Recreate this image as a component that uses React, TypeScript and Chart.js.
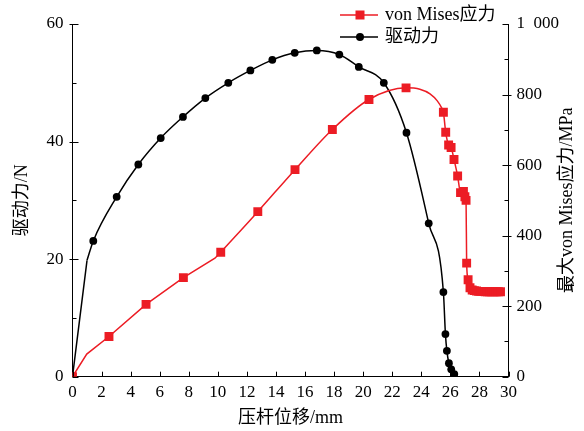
import { useEffect, useRef } from "react";
import { Chart, registerables } from "chart.js";

Chart.register(...registerables);

// Driving force (N) against rod displacement (mm): measured points
const forceX = [1.43, 3.04, 4.53, 6.07, 7.6, 9.14, 10.72, 12.24, 13.75, 15.29, 16.81, 18.36, 19.7, 21.42, 22.98, 24.51, 25.52, 25.66, 25.76, 25.9, 26.06, 26.27];
const forceY = [23.1, 30.6, 36.1, 40.6, 44.2, 47.4, 50.0, 52.1, 53.9, 55.1, 55.5, 54.8, 52.7, 50.0, 41.5, 26.1, 14.4, 7.25, 4.4, 2.3, 1.25, 0.45];
// extra knots on the force curve that carry no marker
const forceBendX = [0, 1.0];
const forceBendY = [0, 19.8];

// Maximum von Mises stress (MPa): measured points
const stressX = [0, 2.51, 5.06, 7.63, 10.2, 12.75, 15.31, 17.88, 20.4, 22.95, 25.52, 25.68, 25.88, 26.05, 26.25, 26.5, 26.7, 26.9, 27.0, 27.08, 27.12, 27.22, 27.35, 27.5, 27.65, 27.8, 27.95, 28.1, 28.25, 28.4, 28.55, 28.7, 28.85, 29.0, 29.15, 29.3, 29.45];
const stressY = [0, 114, 205, 281, 353, 468, 587, 701, 786, 819, 750, 693, 657, 650, 616, 569, 522, 525, 510, 500, 322, 275, 252, 246, 244, 243, 242, 242, 242, 241, 241, 241, 241, 241, 241, 241, 241];
// extra knots on the stress curve that carry no marker
const stressBendX = [0.98, 9.8, 23.9, 24.6, 25.1, 25.4];
const stressBendY = [64, 336, 815, 802, 782, 762];

// the curves are drawn as straight segments up to these displacements, smoothed after
const forceStraightTo = 1.0;
const stressStraightTo = 10.2;

const stressTickLabels = ["0", "200", "400", "600", "800", "1\u2007000"];
const legendLabels = ["von Mises应力", "驱动力"];
const xTitle = "压杆位移/mm";
const yTitle = "驱动力/N";
const y1Title = "最大von Mises应力/MPa";

const RED = "#ec1c24";
const BLACK = "#000000";
const SERIF = '"Liberation Serif", "Noto Sans CJK SC", serif';

type P = { x: number; y: number };
const points = (xs: number[], ys: number[]): P[] => xs.map((x, i) => ({ x, y: ys[i] }));
const curve = (xs: number[], ys: number[], bx: number[], by: number[]): P[] =>
  [...points(xs, ys), ...points(bx, by)].sort((a, b) => a.x - b.x);

// inward tick marks, axis titles and the legend
const decor = {
  id: "decor",
  afterDraw(chart: any) {
    const ctx: CanvasRenderingContext2D = chart.ctx;
    const { left, right, top, bottom } = chart.chartArea;
    const sx = chart.scales.x;
    const sy = chart.scales.y;
    const sy1 = chart.scales.y1;
    ctx.save();
    ctx.strokeStyle = BLACK;
    ctx.lineWidth = 1;
    ctx.beginPath();
    for (let v = sx.min; v <= sx.max; v += 2) {
      const px = Math.round(sx.getPixelForValue(v)) + 0.5;
      ctx.moveTo(px, bottom);
      ctx.lineTo(px, bottom - 5);
    }
    for (let v = sy.min; v <= sy.max; v += 10) {
      const py = Math.round(sy.getPixelForValue(v)) + 0.5;
      const major = v % 20 === 0;
      ctx.moveTo(left - (major && v > sy.min ? 3 : 0), py);
      ctx.lineTo(left + (major ? 6 : 4), py);
    }
    for (let v = sy1.min; v <= sy1.max; v += 100) {
      const py = Math.round(sy1.getPixelForValue(v)) + 0.5;
      const major = v % 200 === 0;
      ctx.moveTo(right + (major && v > sy1.min && v < sy1.max ? 3 : 0), py);
      ctx.lineTo(right - (major ? 6 : 4), py);
    }
    ctx.stroke();

    ctx.fillStyle = BLACK;
    ctx.font = `18px ${SERIF}`;
    ctx.textAlign = "center";
    ctx.textBaseline = "middle";
    ctx.fillText(xTitle, (left + right) / 2, 418);

    const midY = (top + bottom) / 2;
    ctx.save();
    ctx.translate(22, midY);
    ctx.rotate(-Math.PI / 2);
    ctx.fillText(yTitle, 0, 0);
    ctx.restore();

    ctx.save();
    ctx.translate(567, midY);
    ctx.rotate(-Math.PI / 2);
    ctx.fillText(y1Title, 0, 0);
    ctx.restore();

    // legend
    const rows = [
      { label: legendLabels[0], color: RED, y: 15, square: true },
      { label: legendLabels[1], color: BLACK, y: 37, square: false },
    ];
    ctx.textAlign = "left";
    for (const r of rows) {
      ctx.strokeStyle = r.color;
      ctx.fillStyle = r.color;
      ctx.lineWidth = 1.5;
      ctx.beginPath();
      ctx.moveTo(340, r.y);
      ctx.lineTo(378, r.y);
      ctx.stroke();
      if (r.square) {
        ctx.fillRect(360 - 4.5, r.y - 4.5, 9, 9);
      } else {
        ctx.beginPath();
        ctx.arc(360, r.y, 4, 0, Math.PI * 2);
        ctx.fill();
      }
      ctx.fillStyle = BLACK;
      ctx.fillText(r.label, 385, r.y);
    }
    ctx.restore();
  },
};

export default function App() {
  const ref = useRef<HTMLCanvasElement>(null);

  useEffect(() => {
    if (!ref.current) return;
    const tickFont = { family: SERIF, size: 17 };
    const stressCurve = curve(stressX, stressY, stressBendX, stressBendY);
    const forceCurve = curve(forceX, forceY, forceBendX, forceBendY);
    const lineStyle = (color: string, axis: string, order: number) => ({
      yAxisID: axis,
      borderColor: color,
      borderWidth: 1.5,
      pointRadius: 0,
      order,
    });
    const chart = new Chart(ref.current, {
      type: "line",
      data: {
        datasets: [
          {
            data: points(stressX, stressY),
            yAxisID: "y1",
            showLine: false,
            pointStyle: "rect",
            pointRadius: 6.3,
            pointBackgroundColor: RED,
            pointBorderWidth: 0,
            order: 0,
          },
          {
            ...lineStyle(RED, "y1", 1),
            data: stressCurve.filter((p) => p.x <= stressStraightTo),
            tension: 0,
          },
          {
            ...lineStyle(RED, "y1", 1),
            data: stressCurve.filter((p) => p.x >= stressStraightTo),
            cubicInterpolationMode: "monotone",
          },
          {
            data: points(forceX, forceY),
            yAxisID: "y",
            showLine: false,
            pointStyle: "circle",
            pointRadius: 3.9,
            pointBackgroundColor: BLACK,
            pointBorderWidth: 0,
            order: 2,
          },
          {
            ...lineStyle(BLACK, "y", 3),
            data: forceCurve.filter((p) => p.x <= forceStraightTo),
            tension: 0,
          },
          {
            ...lineStyle(BLACK, "y", 3),
            data: forceCurve.filter((p) => p.x >= forceStraightTo),
            cubicInterpolationMode: "monotone",
          },
        ],
      },
      options: {
        animation: false,
        responsive: false,
        events: [],
        layout: { padding: { top: 24, left: 0, right: 0, bottom: 0 } },
        plugins: { legend: { display: false }, tooltip: { enabled: false } },
        scales: {
          x: {
            type: "linear",
            min: 0,
            max: 30,
            grid: { display: false, drawTicks: false },
            border: { display: true, color: BLACK, width: 1 },
            ticks: { stepSize: 2, autoSkip: false, maxRotation: 0, padding: 6, color: BLACK, font: tickFont },
            afterFit: (s: any) => { s.height = 54.3; },
          },
          y: {
            type: "linear",
            position: "left",
            min: 0,
            max: 60,
            grid: { display: false, drawTicks: false },
            border: { display: true, color: BLACK, width: 1 },
            ticks: { stepSize: 20, padding: 9, color: BLACK, font: tickFont },
            afterFit: (s: any) => { s.width = 72.5; },
          },
          y1: {
            type: "linear",
            position: "right",
            min: 0,
            max: 1000,
            grid: { display: false, drawTicks: false },
            border: { display: true, color: BLACK, width: 1 },
            ticks: {
              stepSize: 200,
              padding: 8,
              color: BLACK,
              font: tickFont,
              callback: (v: any) => stressTickLabels[Math.round(Number(v) / 200)],
            },
            afterFit: (s: any) => { s.width = 75.5; },
          },
        },
      },
      plugins: [decor],
    });
    return () => chart.destroy();
  }, []);

  return (
    <canvas
      ref={ref}
      width={584}
      height={431}
      style={{ position: "fixed", left: 0, top: 0, display: "block", background: "#fff" }}
    />
  );
}
